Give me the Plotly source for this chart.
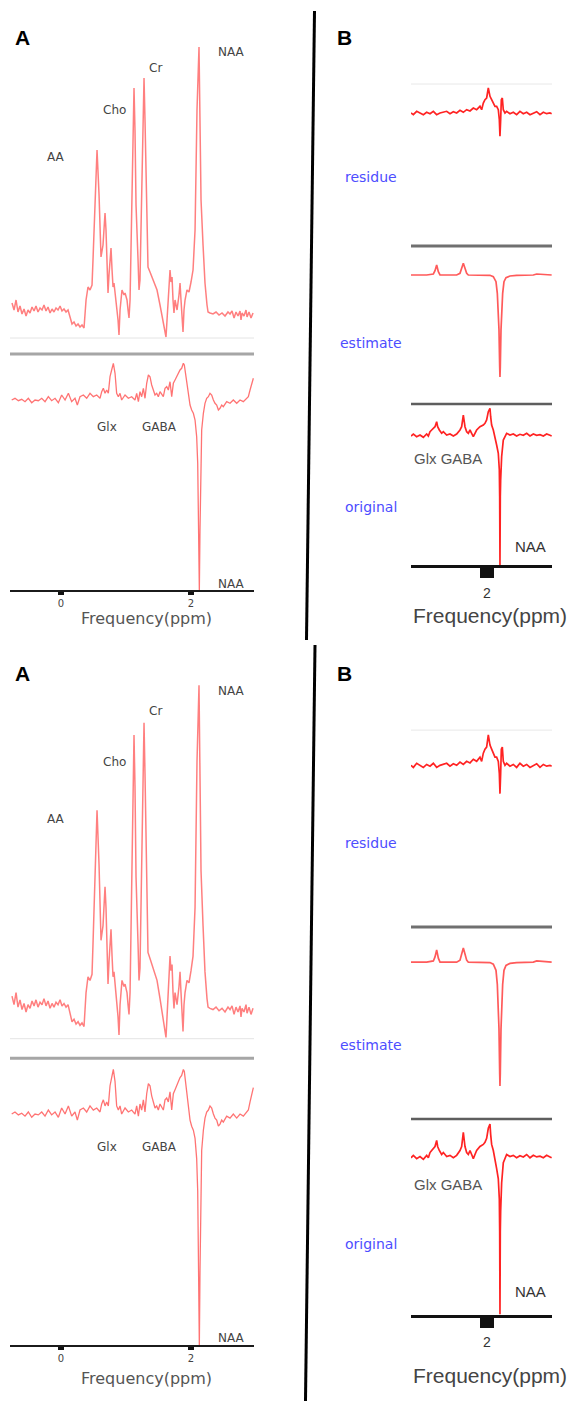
import plotly.graph_objects as go

W, H = 583, 1401

# ---------------- data (ppm, intensity a.u.) ----------------
a_upper = [(-0.754, 0.7), (-0.723, 0.0), (-0.692, 1.0), (-0.662, -0.2), (-0.631, 0.4), (-0.600, -0.4),
           (-0.569, 0.1), (-0.538, -0.6), (-0.508, 0.0), (-0.477, -0.3), (-0.446, 0.3), (-0.415, -0.1),
           (-0.385, 0.4), (-0.354, -0.2), (-0.323, 0.2), (-0.292, 0.0), (-0.262, 0.5), (-0.231, -0.1),
           (-0.200, 0.3), (-0.169, -0.3), (-0.138, 0.1), (-0.108, -0.2), (-0.077, 0.2), (-0.046, 0.0),
           (-0.015, 0.4), (0.015, -0.1), (0.046, 0.1), (0.077, -0.2), (0.108, 0.0), (0.138, -0.8),
           (0.169, -1.4), (0.200, -1.2), (0.231, -1.6), (0.262, -1.4), (0.292, -1.7), (0.323, -1.5),
           (0.354, -1.8), (0.385, 1.0), (0.415, 2.3), (0.446, 2.0), (0.477, 2.5), (0.492, 5.0),
           (0.523, 11.0), (0.554, 16.0), (0.585, 11.5), (0.600, 7.7), (0.615, 5.3), (0.646, 6.5),
           (0.677, 9.7), (0.692, 8.0), (0.708, 4.3), (0.723, 1.7), (0.738, 3.5), (0.769, 6.2),
           (0.785, 4.0), (0.800, 2.3), (0.815, 2.7), (0.846, 1.0), (0.877, -1.0), (0.892, -2.5),
           (0.908, 0.0), (0.938, 2.0), (0.969, 1.5), (0.985, 1.7), (1.015, 1.0), (1.031, 0.0),
           (1.046, -0.8), (1.062, 1.0), (1.077, 6.0), (1.092, 10.3), (1.108, 16.0), (1.123, 22.2),
           (1.138, 18.0), (1.154, 10.5), (1.185, 5.0), (1.200, 2.0), (1.215, 3.0), (1.231, 8.0),
           (1.246, 15.0), (1.262, 20.0), (1.277, 23.2), (1.292, 19.0), (1.308, 12.3), (1.338, 4.3),
           (1.369, 3.8), (1.400, 3.3), (1.446, 2.5), (1.477, 2.0), (1.523, 0.5), (1.554, -0.7),
           (1.585, -1.5), (1.615, -2.7), (1.631, -1.0), (1.662, 2.5), (1.677, 4.0), (1.692, 2.8),
           (1.708, 3.3), (1.723, 1.0), (1.738, -0.3), (1.754, 1.0), (1.785, 0.0), (1.815, 1.5),
           (1.831, 2.7), (1.846, 1.0), (1.862, -1.0), (1.877, -2.2), (1.892, 0.0), (1.908, 1.0),
           (1.938, 2.0), (1.969, 1.8), (2.000, 2.8), (2.031, 4.0), (2.062, 8.0), (2.077, 14.3),
           (2.092, 20.0), (2.123, 26.3), (2.138, 20.0), (2.154, 11.0), (2.185, 6.5), (2.215, 2.7),
           (2.246, 0.5), (2.262, -0.2), (2.292, -0.3), (2.338, -0.4), (2.385, -0.2), (2.431, -0.5),
           (2.477, -0.3), (2.523, -0.6), (2.569, -0.2), (2.600, -0.4), (2.631, -0.1), (2.662, -0.8),
           (2.692, -0.2), (2.723, -0.6), (2.754, -0.1), (2.769, -1.0), (2.785, -0.3), (2.815, -0.6),
           (2.846, 0.0), (2.862, -0.7), (2.892, -0.2), (2.923, -0.8), (2.954, -0.3)]

a_lower = [(-0.759, 0.00), (-0.708, 0.17), (-0.656, -0.07), (-0.605, 0.07), (-0.554, -0.17), (-0.503, 0.17),
           (-0.451, -0.27), (-0.400, 0.00), (-0.349, -0.07), (-0.297, 0.17), (-0.246, -0.17), (-0.195, 0.33),
           (-0.144, -0.07), (-0.092, 0.17), (-0.041, -0.27), (0.010, 0.50), (0.062, 0.00), (0.113, 0.67),
           (0.164, -0.17), (0.215, 0.17), (0.251, -0.50), (0.292, 0.33), (0.344, 0.50), (0.395, 0.17),
           (0.446, 0.67), (0.497, 0.33), (0.549, 0.50), (0.600, 0.17), (0.626, 0.83), (0.651, 1.17),
           (0.677, 0.67), (0.703, 1.00), (0.728, 0.67), (0.754, 2.33), (0.779, 3.00), (0.805, 3.67),
           (0.831, 2.67), (0.856, 0.67), (0.882, 0.33), (0.908, 0.67), (0.933, 0.00), (0.985, 0.50),
           (1.036, 0.17), (1.087, 0.33), (1.138, 0.00), (1.164, 0.67), (1.190, -0.17), (1.215, 0.83),
           (1.241, 0.33), (1.267, 1.17), (1.292, 0.17), (1.318, 1.67), (1.344, 2.50), (1.369, 2.33),
           (1.395, 1.50), (1.421, 1.00), (1.446, 0.50), (1.472, 0.67), (1.497, 0.33), (1.523, 0.83),
           (1.574, 0.33), (1.600, 1.17), (1.626, 1.33), (1.651, 1.00), (1.677, 1.83), (1.703, 0.33),
           (1.728, 1.67), (1.754, 2.00), (1.779, 2.33), (1.805, 2.67), (1.831, 3.00), (1.856, 3.17),
           (1.882, 3.67), (1.897, 3.50), (1.913, 2.67), (1.933, 1.67), (1.959, 0.33), (1.985, -0.50),
           (2.010, -1.00), (2.036, -1.33), (2.062, -2.00), (2.087, -3.67), (2.103, -6.33), (2.118, -13.00),
           (2.128, -19.00), (2.138, -13.00), (2.149, -6.33), (2.164, -3.00), (2.190, -1.33), (2.215, -0.33),
           (2.241, 0.17), (2.267, 0.33), (2.292, 0.67), (2.318, 0.50), (2.344, 0.00), (2.369, -0.33),
           (2.395, -0.50), (2.421, -1.00), (2.446, -0.83), (2.472, -0.50), (2.497, -0.67), (2.549, -0.17),
           (2.600, -0.33), (2.651, 0.00), (2.703, -0.33), (2.754, 0.00), (2.805, -0.17), (2.856, 0.17),
           (2.882, 0.33), (2.908, 1.00), (2.933, 1.67), (2.959, 2.17)]

b_residue = [(0.449, 0.00), (0.497, -0.17), (0.565, 0.17), (0.633, 0.00), (0.701, -0.17), (0.769, 0.07),
             (0.837, -0.07), (0.905, 0.17), (0.973, -0.17), (1.041, 0.00), (1.109, 0.07), (1.177, 0.17),
             (1.245, -0.07), (1.313, 0.13), (1.381, 0.00), (1.449, 0.27), (1.517, 0.07), (1.585, 0.33),
             (1.653, 0.20), (1.721, 0.50), (1.789, 0.33), (1.857, 0.67), (1.891, 0.33), (1.925, 1.00),
             (1.959, 1.33), (1.993, 1.50), (2.027, 2.50), (2.061, 1.67), (2.095, 1.33), (2.129, 1.00),
             (2.163, 0.67), (2.197, 0.67), (2.231, 0.33), (2.252, -0.67), (2.265, -2.33), (2.279, -0.67),
             (2.293, 1.33), (2.313, 1.50), (2.333, 0.33), (2.367, 0.00), (2.401, 0.17), (2.469, -0.07),
             (2.537, 0.07), (2.605, -0.17), (2.673, 0.17), (2.741, -0.07), (2.810, 0.07), (2.878, -0.17),
             (2.946, 0.00), (3.014, 0.13), (3.082, -0.17), (3.150, 0.07), (3.218, -0.07), (3.286, 0.00),
             (3.320, -0.07)]

b_estimate = [(0.449, 0.0), (0.769, 0.0), (0.905, 0.10), (0.939, 0.43), (0.973, 1.00), (1.007, 0.33),
              (1.041, 0.0), (1.381, 0.0), (1.449, 0.17), (1.483, 0.67), (1.517, 1.17), (1.551, 0.67),
              (1.585, 0.17), (1.619, 0.0), (1.993, 0.0), (2.061, -0.03), (2.129, -0.17), (2.163, -0.50),
              (2.184, -0.67), (2.211, -1.83), (2.231, -3.50), (2.245, -5.50), (2.259, -9.17), (2.265, -10.20),
              (2.272, -9.17), (2.286, -5.50), (2.299, -3.50), (2.320, -1.83), (2.347, -0.67), (2.388, -0.27),
              (2.469, -0.10), (2.605, -0.03), (2.946, 0.0), (3.014, 0.10), (3.320, 0.0)]

b_original = [(0.449, -0.10), (0.497, 0.10), (0.565, -0.17), (0.633, 0.00), (0.701, -0.23), (0.769, 0.10),
              (0.803, -0.10), (0.837, 0.33), (0.871, 0.50), (0.905, 0.67), (0.939, 0.83), (0.973, 1.33),
              (0.993, 0.83), (1.027, 0.50), (1.075, 0.17), (1.109, 0.33), (1.177, 0.00), (1.245, 0.10),
              (1.313, -0.10), (1.381, 0.10), (1.449, 0.50), (1.483, 0.83), (1.517, 2.00), (1.551, 0.83),
              (1.585, 0.33), (1.619, 0.17), (1.653, 0.50), (1.687, 0.17), (1.721, -0.17), (1.755, 0.17),
              (1.789, 0.50), (1.857, 0.83), (1.925, 1.00), (1.959, 1.17), (1.993, 1.50), (2.027, 2.33),
              (2.061, 2.67), (2.075, 1.83), (2.095, 1.00), (2.129, 0.50), (2.163, -0.17), (2.197, -1.00),
              (2.231, -1.83), (2.252, -3.50), (2.259, -6.17), (2.265, -13.00), (2.272, -6.17), (2.279, -4.50),
              (2.299, -2.17), (2.333, -0.50), (2.367, -0.17), (2.401, 0.17), (2.469, 0.00), (2.537, 0.10),
              (2.605, -0.10), (2.673, 0.07), (2.741, -0.03), (2.810, 0.17), (2.878, -0.10), (2.946, 0.10),
              (3.014, -0.03), (3.082, 0.03), (3.150, -0.10), (3.218, 0.10), (3.286, -0.03), (3.320, -0.10)]

a_ticks = [0, 2]
b_ticks = [2]
x_title = "Frequency(ppm)"
panel_letters = ["A", "B"]
a_upper_labels = ["AA", "Cho", "Cr", "NAA"]
a_lower_labels = ["Glx", "GABA", "NAA"]
b_row_labels = ["residue", "estimate", "original"]
b_peak_labels = ["Glx GABA", "NAA"]

A_RANGE = [-0.785, 2.969]
B_RANGE = [0.449, 3.327]


# ---------------- layout helpers (pixel layout of each half) ----------------
def Y(py, h):
    return py if h == 0 else 673 + (py - 37) * 1.215


def fx(px):
    return px / W


def fy(py, h):
    return 1 - Y(py, h) / H


panels = [
    (a_upper, (10, 254), (40, 341), A_RANGE, [-3.1, 27.0], "rgba(255,95,95,0.8)", 1.5, None),
    (a_lower, (10, 254), (356, 590), A_RANGE, [-19.0, 4.4], "rgba(255,90,90,0.85)", 1.3, "A"),
    (b_residue, (411, 552), (84, 146), B_RANGE, [-3.3, 2.9], "rgb(255,35,35)", 1.7, None),
    (b_estimate, (411, 552), (248, 380), B_RANGE, [-10.5, 2.7], "rgb(255,90,90)", 1.7, None),
    (b_original, (411, 552), (406, 565), B_RANGE, [-13.0, 2.9], "rgb(255,35,35)", 1.7, "B"),
]

fig = go.Figure()
layout = {}
shapes = []
annotations = []

for h in (0, 1):
    for k, (data, (x0, x1), (ytop, ybot), xr, yr, col, lw, style) in enumerate(panels):
        n = h * len(panels) + k + 1
        sx = "" if n == 1 else str(n)
        xs = [p[0] for p in data]
        ys = [p[1] for p in data]
        fig.add_trace(go.Scatter(x=xs, y=ys, mode="lines", xaxis="x" + sx, yaxis="y" + sx,
                                 line=dict(color=col, width=lw), showlegend=False, hoverinfo="skip"))
        xa = dict(domain=[fx(x0), fx(x1)], range=xr, anchor="y" + sx, showgrid=False,
                  zeroline=False, fixedrange=True)
        if style is None:
            xa["visible"] = False
        elif style == "A":
            xa.update(showline=True, linecolor="#1b1b1b", linewidth=2, ticks="outside",
                      tickvals=a_ticks, ticktext=[str(t) for t in a_ticks], ticklen=3, tickwidth=6,
                      tickcolor="#111", tickfont=dict(family="DejaVu Sans", size=10, color="#444"))
        else:
            xa.update(showline=True, linecolor="#111", linewidth=3, ticks="outside",
                      tickvals=b_ticks, ticktext=[str(t) for t in b_ticks], ticklen=10, tickwidth=14,
                      tickcolor="#111", ticklabelstandoff=3,
                      tickfont=dict(family="Liberation Sans", size=14, color="#333"))
        ya = dict(domain=[fy(ybot, h), fy(ytop, h)], range=yr, visible=False, anchor="x" + sx,
                  fixedrange=True)
        layout["xaxis" + sx] = xa
        layout["yaxis" + sx] = ya

    # separator lines
    for (x0, x1, py, c, w) in [(10, 254, 338, "#e4e4e4", 1), (10, 254, 354, "#a6a6a6", 3),
                               (411, 552, 84, "#e8e8e8", 1), (411, 552, 246, "#707070", 3),
                               (411, 552, 404, "#5e5e5e", 2.5)]:
        shapes.append(dict(type="line", xref="paper", yref="paper", x0=fx(x0), x1=fx(x1),
                           y0=fy(py, h), y1=fy(py, h), line=dict(color=c, width=w)))

    def ann(text, px, py, size, color, family="DejaVu Sans", bold=False):
        annotations.append(dict(text=("<b>%s</b>" % text) if bold else text, xref="paper", yref="paper",
                                x=fx(px), y=fy(py, h), xanchor="center", yanchor="middle",
                                showarrow=False, font=dict(family=family, size=size, color=color)))

    ann(panel_letters[0], 22.5, 37.5, 21, "#000", "Liberation Sans", True)
    ann(panel_letters[1], 344, 37, 21, "#000", "Liberation Sans", True)
    for t, (px, py) in zip(a_upper_labels, [(56, 157), (114, 110), (155, 68), (231, 52)]):
        ann(t, px, py, 12, "#444")
    for t, (px, py) in zip(a_lower_labels, [(107, 427), (159, 427), (231, 584)]):
        ann(t, px, py, 12, "#444")
    ann(x_title, 146, 618, 16, "#555")
    for t, (px, py) in zip(b_row_labels, [(371, 177), (371, 343), (371, 507)]):
        ann(t, px, py, 14, "#4d4dff")
    ann(b_peak_labels[0], 448, 458, 15, "#555", "Liberation Sans")
    ann(b_peak_labels[1], 530, 546, 15, "#333", "Liberation Sans")
    ann(x_title, 490, 615, 21, "#444", "Liberation Sans")

# vertical divider lines
for (xa0, ya0, xa1, ya1) in [(314.5, 11, 306.5, 640), (315, 645, 305.5, 1401)]:
    shapes.append(dict(type="line", xref="paper", yref="paper", x0=fx(xa0), x1=fx(xa1),
                       y0=1 - ya0 / H, y1=1 - ya1 / H, line=dict(color="#000", width=3)))

fig.update_layout(width=W, height=H, margin=dict(l=0, r=0, t=0, b=0), autosize=False,
                  paper_bgcolor="white", plot_bgcolor="white", showlegend=False,
                  shapes=shapes, annotations=annotations, **layout)

fig.write_html("out.html", config={"displayModeBar": False, "staticPlot": True},
               post_script="document.body.style.margin='0';document.body.style.padding='0';"
                           "document.body.style.overflow='hidden';")
